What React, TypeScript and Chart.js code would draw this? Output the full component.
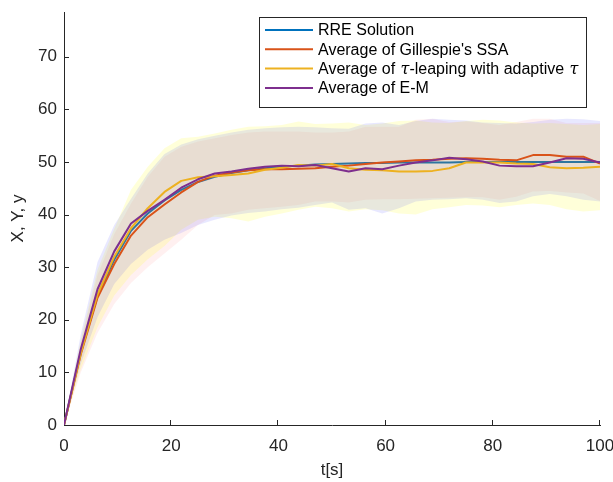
import React, { useEffect, useRef } from 'react';
import { Chart, registerables } from 'chart.js';

Chart.register(...registerables);

// time grid t[s]
const T = [0, 3.125, 6.25, 9.375, 12.5, 15.625, 18.75, 21.875, 25, 28.125, 31.25, 34.375, 37.5, 40.625, 43.75, 46.875, 50, 53.125, 56.25, 59.375, 62.5, 65.625, 68.75, 71.875, 75, 78.125, 81.25, 84.375, 87.5, 90.625, 93.75, 96.875, 100];

// mean curves
const RRE = [0, 13.8, 24.6, 31.4, 36.9, 40.2, 42.7, 44.7, 46.2, 47.2, 47.9, 48.4, 48.8, 49.1, 49.3, 49.5, 49.6, 49.7, 49.8, 49.8, 49.9, 49.9, 49.9, 49.9, 50, 50, 50, 50, 50, 50, 50, 50, 50];
const SSA = [0, 13.4, 24.2, 30.6, 36.0, 39.5, 41.9, 44.2, 46.2, 47.4, 48.0, 48.4, 48.6, 48.6, 48.7, 48.8, 49.1, 49.3, 49.6, 49.9, 50.1, 50.3, 50.4, 50.6, 50.7, 50.6, 50.4, 50.3, 51.3, 51.3, 51.0, 51.0, 49.7];
const TAU = [0, 13.6, 24.8, 32.0, 37.4, 41.2, 44.3, 46.4, 47.1, 47.3, 47.5, 47.8, 48.5, 48.9, 49.4, 49.3, 49.6, 48.8, 48.5, 48.4, 48.2, 48.2, 48.3, 48.8, 49.9, 49.9, 49.9, 49.7, 49.6, 49.0, 48.8, 48.9, 49.1];
const EM = [0, 14.4, 25.8, 33.0, 38.3, 40.7, 42.8, 45.1, 46.7, 47.8, 48.2, 48.7, 49.1, 49.3, 49.2, 49.4, 48.8, 48.2, 48.8, 48.6, 49.3, 49.9, 50.3, 50.8, 50.5, 50.1, 49.3, 49.2, 49.2, 49.9, 50.7, 50.6, 49.9];

// spread bands (upper / lower)
const SSA_UP = [0, 15.8, 28.5, 36.3, 42.1, 47.2, 51.0, 52.9, 53.9, 54.5, 55.1, 55.6, 55.8, 55.8, 55.8, 55.6, 55.6, 55.8, 56.7, 56.7, 56.7, 58.0, 58.2, 57.6, 57.7, 57.4, 57.0, 57.6, 58.2, 58.2, 57.4, 57.4, 57.4];
const SSA_LO = [0, 10.0, 17.5, 23.0, 27.0, 30.0, 32.6, 35.2, 38.0, 39.9, 40.2, 40.9, 41.2, 41.5, 41.8, 42.5, 42.5, 42.3, 42.8, 42.9, 42.9, 43.0, 43.1, 43.2, 43.3, 43.3, 42.8, 43.4, 44.4, 44.5, 44.2, 44.0, 42.6];
const TAU_UP = [0, 16.2, 29.5, 37.3, 44.7, 49.1, 52.6, 54.5, 54.8, 55.4, 56.1, 56.7, 56.8, 57.0, 57.7, 57.2, 57.3, 57.5, 57.0, 57.3, 57.8, 57.9, 57.5, 57.4, 57.8, 58.0, 57.9, 57.5, 57.3, 57.4, 57.2, 57.0, 57.2];
const TAU_LO = [0, 10.6, 18.6, 24.6, 28.5, 31.5, 34.0, 37.1, 39.0, 39.6, 39.3, 38.7, 39.6, 40.2, 40.9, 41.5, 41.2, 40.6, 41.0, 40.8, 40.2, 40.0, 41.0, 41.4, 41.8, 41.7, 41.4, 41.8, 42.1, 41.8, 41.0, 40.6, 40.8];
const EM_UP = [0, 17.2, 31.0, 38.0, 43.0, 47.8, 51.5, 53.3, 54.3, 55.0, 55.6, 56.1, 56.4, 56.6, 56.7, 56.6, 56.4, 56.3, 57.3, 57.5, 57.0, 57.8, 58.2, 58.0, 57.9, 57.5, 57.4, 57.3, 57.6, 58.0, 58.2, 58.1, 57.8];
const EM_LO = [0, 11.6, 20.5, 26.8, 30.6, 33.3, 35.2, 36.5, 38.0, 39.0, 39.8, 40.3, 40.6, 41.0, 41.3, 41.8, 42.3, 40.9, 41.2, 40.2, 41.2, 42.5, 42.8, 42.9, 43.1, 42.8, 42.2, 42.5, 43.5, 43.9, 43.5, 42.8, 42.5];

const X_TICKS = [0, 20, 40, 60, 80, 100];
const Y_TICKS = [0, 10, 20, 30, 40, 50, 60, 70];
const LEGEND = ['RRE Solution', "Average of Gillespie's SSA", 'Average of \u03C4-leaping with adaptive \u03C4', 'Average of E-M'];

const C_BLUE = '#0072BD';
const C_RED = '#D95319';
const C_YEL = '#EDB120';
const C_PUR = '#7E2F8E';
const AXIS = '#262626';
const FONT = '"Liberation Sans", Arial, Helvetica, sans-serif';

export default function App() {
  const ref = useRef<HTMLCanvasElement>(null);

  useEffect(() => {
    const canvas = ref.current;
    if (!canvas) return;
    const pts = (arr: number[]) => arr.map((v, i) => ({ x: T[i], y: v }));
    const line = (label: string, data: number[], color: string, order: number) => ({
      label, data: pts(data), borderColor: color, borderWidth: 2, pointRadius: 0,
      fill: false, order, tension: 0,
    });
    const bandUp = (data: number[], color: string, order: number) => ({
      label: '', data: pts(data), borderWidth: 0, borderColor: 'rgba(0,0,0,0)',
      backgroundColor: color, pointRadius: 0, fill: '+1', order, tension: 0,
    });
    const bandLo = (data: number[], order: number) => ({
      label: '', data: pts(data), borderWidth: 0, borderColor: 'rgba(0,0,0,0)',
      pointRadius: 0, fill: false, order, tension: 0,
    });

    const decor = {
      id: 'decor',
      afterDraw(chart: any) {
        const { ctx, chartArea: ca, scales } = chart;
        const xs = scales.x, ys = scales.y;
        ctx.save();
        ctx.strokeStyle = AXIS;
        ctx.lineWidth = 1;
        ctx.beginPath();
        for (const v of X_TICKS) {
          if (v === 0) continue;
          const px = Math.round(xs.getPixelForValue(v)) - 0.5;
          ctx.moveTo(px, ca.bottom);
          ctx.lineTo(px, ca.bottom - 5);
        }
        for (const v of Y_TICKS) {
          if (v === 0) continue;
          const py = Math.round(ys.getPixelForValue(v)) + 0.5;
          ctx.moveTo(ca.left, py);
          ctx.lineTo(ca.left + 5, py);
        }
        ctx.stroke();

        // legend box
        const bx = 259.5, by = 17.5, bw = 327, bh = 90;
        ctx.fillStyle = '#ffffff';
        ctx.fillRect(bx, by, bw, bh);
        ctx.strokeStyle = AXIS;
        ctx.lineWidth = 1;
        ctx.strokeRect(bx, by, bw, bh);
        const colors = [C_BLUE, C_RED, C_YEL, C_PUR];
        const rowY = [31, 50.3, 69.6, 88.9];
        ctx.textBaseline = 'middle';
        ctx.textAlign = 'left';
        LEGEND.forEach((txt, k) => {
          const yy = rowY[k];
          ctx.strokeStyle = colors[k];
          ctx.lineWidth = 2;
          ctx.beginPath();
          ctx.moveTo(265, yy - 1);
          ctx.lineTo(313, yy - 1);
          ctx.stroke();
          ctx.fillStyle = '#000000';
          let x0 = 318;
          const parts = txt.split('\u03C4');
          parts.forEach((p, j) => {
            ctx.font = '16px ' + FONT;
            ctx.fillText(p, x0, yy);
            x0 += ctx.measureText(p).width;
            if (j < parts.length - 1) {
              ctx.font = 'italic 16px "DejaVu Serif", "Liberation Serif", serif';
              ctx.fillText('\u03C4', x0 + 1, yy);
              x0 += ctx.measureText('\u03C4').width + 1;
            }
          });
        });
        ctx.restore();
      },
    };

    const chart = new Chart(canvas, {
      type: 'line',
      data: {
        datasets: [
          line('Average of E-M', EM, C_PUR, 1) as any,
          line('Average of tau', TAU, C_YEL, 2) as any,
          line("Average of Gillespie's SSA", SSA, C_RED, 3) as any,
          bandUp(EM_UP, 'rgba(0,0,255,0.09)', 4) as any,
          bandLo(EM_LO, 4) as any,
          bandUp(TAU_UP, 'rgba(255,255,0,0.15)', 5) as any,
          bandLo(TAU_LO, 5) as any,
          bandUp(SSA_UP, 'rgba(255,0,0,0.06)', 6) as any,
          bandLo(SSA_LO, 6) as any,
          line('RRE Solution', RRE, C_BLUE, 7) as any,
        ],
      },
      options: {
        animation: false,
        responsive: false,
        layout: { padding: { top: 12, right: 13, left: 0, bottom: 0 } },
        plugins: { legend: { display: false }, tooltip: { enabled: false } },
        elements: { line: { borderJoinStyle: 'round' } },
        scales: {
          x: {
            type: 'linear', min: 0, max: 100,
            ticks: { stepSize: 20, includeBounds: false, color: AXIS, padding: 11, maxRotation: 0, font: { size: 17, family: FONT } },
            grid: { drawOnChartArea: false, drawTicks: false },
            border: { display: true, color: AXIS, width: 1 },
            title: { display: true, text: 't[s]', color: AXIS, font: { size: 17, family: FONT }, padding: { top: 0, bottom: 1 } },
            afterFit: (s: any) => { s.height = 57; s.paddingLeft = 0; s.paddingRight = 0; },
          },
          y: {
            type: 'linear', min: 0, max: 78.5,
            ticks: { stepSize: 10, includeBounds: false, color: AXIS, padding: 7, font: { size: 17, family: FONT } },
            afterBuildTicks: (s: any) => { s.ticks = s.ticks.filter((t: any) => Y_TICKS.includes(t.value)); },
            grid: { drawOnChartArea: false, drawTicks: false },
            border: { display: true, color: AXIS, width: 1 },
            title: { display: true, text: 'X, Y, y', color: AXIS, font: { size: 17, family: FONT }, padding: { top: 8, bottom: 0 } },
            afterFit: (s: any) => { s.width = 64; s.paddingTop = 0; s.paddingBottom = 0; },
          },
        },
      } as any,
      plugins: [decor],
    });
    return () => chart.destroy();
  }, []);

  return (
    <div style={{ position: 'absolute', left: 0, top: 0, width: 613, height: 482, background: '#fff' }}>
      <canvas ref={ref} width={613} height={482} style={{ display: 'block' }} />
    </div>
  );
}
